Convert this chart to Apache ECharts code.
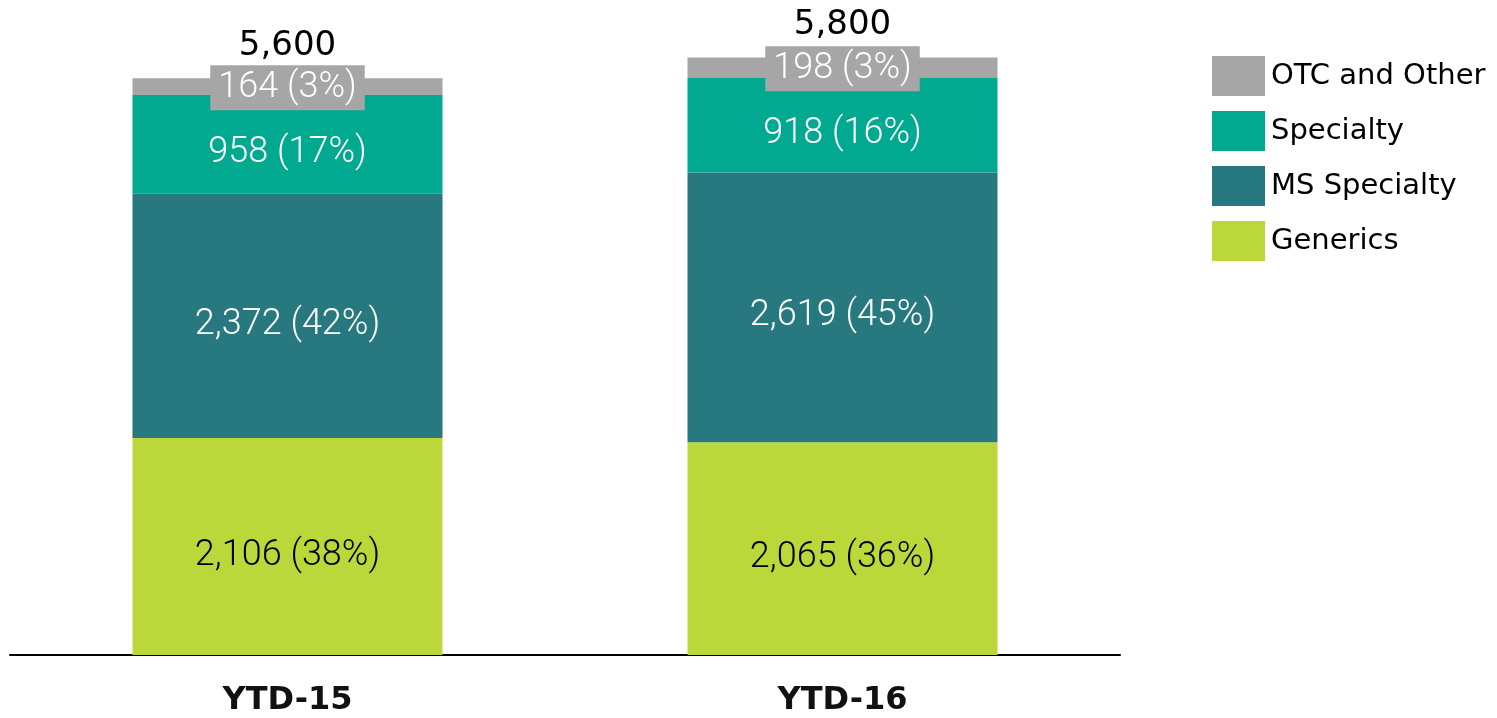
<!DOCTYPE html>
<html>
<head>
<meta charset="utf-8">
<script src="https://cdn.jsdelivr.net/npm/echarts@6/dist/echarts.min.js"></script>
<style>
  html, body { margin: 0; padding: 0; background: #fff; }
  #chart { width: 1497px; height: 718px; }
</style>
</head>
<body>
<div id="chart"></div>
<script>
// Sales by segment, year-to-date
const categories = ['YTD-15', 'YTD-16'];
const generics = [2106, 2065];
const msSpecialty = [2372, 2619];
const specialty = [958, 918];
const otcOther = [164, 198];
const totals = [5600, 5800];

const seriesNames = ['Generics', 'MS Specialty', 'Specialty', 'OTC and Other'];
const legendOrder = ['OTC and Other', 'Specialty', 'MS Specialty', 'Generics'];
const colors = ['#BBD73A', '#28797F', '#00A98F', '#A6A6A6'];

const labelFont = 'Roboto, "Noto Sans", sans-serif';
const fmtNum = v => v.toLocaleString('en-US');
const share = (v, i) => Math.round(v / totals[i] * 100) + '%';
const segLabel = p => fmtNum(p.value) + ' (' + share(p.value, p.dataIndex) + ')';

function segment(name, data, color, textColor, extra) {
  return {
    name: name,
    type: 'bar',
    stack: 'sales',
    barWidth: 310,
    data: data,
    itemStyle: { color: color },
    label: Object.assign({
      show: true,
      position: 'inside',
      formatter: segLabel,
      color: textColor,
      fontFamily: labelFont,
      fontWeight: 300,
      fontSize: 36,
      offset: [0, 9]
    }, extra || {})
  };
}

const chart = echarts.init(document.getElementById('chart'), null, { renderer: 'canvas' });
chart.setOption({
  animation: false,
  backgroundColor: '#ffffff',
  grid: { left: 10, right: 377, top: 37, bottom: 63 },
  legend: {
    data: legendOrder,
    orient: 'vertical',
    left: 1207,
    top: 51,
    itemWidth: 53,
    itemHeight: 40,
    itemGap: 15,
    icon: 'rect',
    textStyle: {
      fontFamily: '"DejaVu Sans", sans-serif',
      fontSize: 29,
      color: '#000',
      padding: [0, 0, 0, 1]
    },
    selectedMode: false
  },
  xAxis: {
    type: 'category',
    data: categories,
    axisLine: { lineStyle: { color: '#000', width: 2 } },
    axisTick: { show: false },
    axisLabel: {
      color: '#111',
      fontFamily: '"DejaVu Sans", sans-serif',
      fontWeight: 'bold',
      fontSize: 32,
      margin: 30
    }
  },
  yAxis: {
    type: 'value',
    min: 0,
    max: 6000,
    show: false,
    splitLine: { show: false }
  },
  series: [
    segment(seriesNames[0], generics, colors[0], '#000'),
    segment(seriesNames[1], msSpecialty, colors[1], '#fff'),
    segment(seriesNames[2], specialty, colors[2], '#fff'),
    segment(seriesNames[3], otcOther, colors[3], '#fff', {
      backgroundColor: '#A6A6A6',
      padding: [8, 8, 1, 8],
      offset: [0, 1]
    }),
    {
      name: 'Total',
      type: 'bar',
      stack: 'sales',
      barWidth: 310,
      data: [0, 0],
      itemStyle: { color: 'transparent' },
      label: {
        show: true,
        position: 'top',
        distance: 15,
        formatter: p => fmtNum(totals[p.dataIndex]),
        color: '#000',
        fontFamily: '"DejaVu Sans", sans-serif',
        fontSize: 34
      }
    }
  ]
});
</script>
</body>
</html>
